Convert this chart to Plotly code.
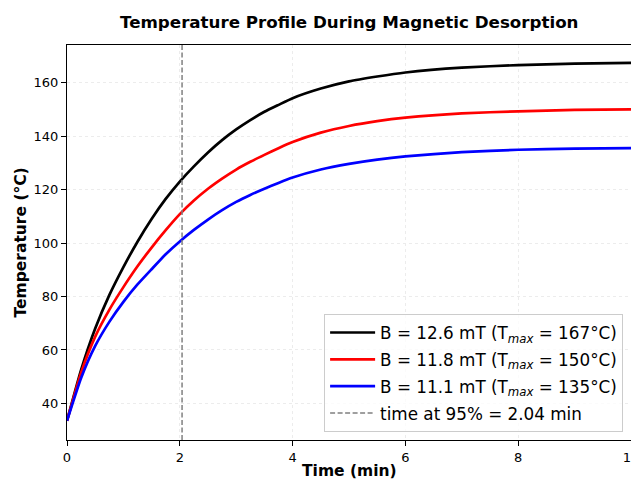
import plotly.graph_objects as go

# Time grid (min)
time_min = [0, 0.25, 0.5, 0.75, 1, 1.25, 1.5, 1.75, 2, 2.25, 2.5, 2.75, 3,
            3.25, 3.5, 3.75, 4, 4.5, 5, 5.5, 6, 7, 8, 9, 10]

# Temperature readings (°C)
temp_126 = [33.5, 52.5, 68, 80.5, 91, 100.5, 109, 116.5, 123, 128.7, 133.9, 138.5, 142.5,
            146.0, 149.1, 151.7, 154.2, 157.8, 160.5, 162.3, 163.8, 165.6, 166.6, 167.1, 167.4]
temp_118 = [33.5, 51.5, 65, 75, 83.5, 91.3, 98.3, 104.8, 110.8, 115.9, 120.3, 124.1, 127.5,
            130.4, 133.0, 135.5, 137.8, 141.3, 143.8, 145.6, 146.9, 148.5, 149.3, 149.8, 150.0]
temp_111 = [33.5, 49.5, 61.5, 70.5, 78, 84.5, 90.2, 95.8, 100.6, 104.9, 108.8, 112.3, 115.4,
            118.0, 120.3, 122.5, 124.5, 127.5, 129.6, 131.2, 132.4, 134, 134.9, 135.3, 135.5]

series_names = [
    "B = 12.6 mT (T<sub><i>max</i></sub> = 167°C)",
    "B = 11.8 mT (T<sub><i>max</i></sub> = 150°C)",
    "B = 11.1 mT (T<sub><i>max</i></sub> = 135°C)",
]
series_colors = ["black", "red", "blue"]
t95 = 2.04
t95_label = "time at 95% = 2.04 min"

x_ticks = [0, 2, 4, 6, 8, 10]
y_ticks = [40, 60, 80, 100, 120, 140, 160]
y_range = [26.3, 174.1]

FONT = "DejaVu Sans"
# page body has an 8px default margin, so the figure is drawn 8px in from the top-left
W, H = 639, 479

fig = go.Figure()
for i, (vals, name, col) in enumerate(zip([temp_126, temp_118, temp_111], series_names, series_colors)):
    fig.add_trace(go.Scatter(
        x=time_min, y=vals, mode="lines", name=name,
        line=dict(color=col, width=2.7, shape="spline", smoothing=0.5),
        legendgroup=f"g{i}",
    ))

fig.add_trace(go.Scatter(
    x=[t95, t95], y=y_range, mode="lines", name=t95_label,
    line=dict(color="#808080", width=1.5, dash="5px,2.5px"),
    legendgroup="g3",
))

axis_common = dict(
    showline=True, linecolor="black", linewidth=1, mirror=True,
    ticks="outside", ticklen=5, tickwidth=1, tickcolor="black",
    showgrid=True, gridcolor="#ececec", griddash="3px,3px", gridwidth=1,
    zeroline=False, automargin=False, ticklabeloverflow="allow",
    tickfont=dict(family=FONT, size=13, color="black"),
)

fig.update_layout(
    width=W, height=H,
    template="none",
    paper_bgcolor="white", plot_bgcolor="white",
    margin=dict(l=59, r=16, t=37, b=47, autoexpand=False),
    xaxis=dict(range=[0, 10], tickvals=x_ticks, **axis_common),
    yaxis=dict(range=y_range, tickvals=y_ticks, **axis_common),
    legend=dict(
        x=0.986, y=0.02, xanchor="right", yanchor="bottom",
        bgcolor="rgba(255,255,255,0.8)", bordercolor="#cccccc", borderwidth=1,
        font=dict(family=FONT, size=16.8, color="black"),
        traceorder="grouped", tracegroupgap=2, itemwidth=45,
    ),
    showlegend=True,
    annotations=[
        dict(text="<b>Temperature Profile During Magnetic Desorption</b>",
             xref="paper", yref="paper", x=0.5, y=1 + 23 / 395,
             xanchor="center", yanchor="middle", showarrow=False,
             font=dict(family=FONT, size=16.7, color="black")),
        dict(text="<b>Time (min)</b>",
             xref="paper", yref="paper", x=0.5, y=-31 / 395,
             xanchor="center", yanchor="middle", showarrow=False,
             font=dict(family=FONT, size=15.5, color="black")),
        dict(text="<b>Temperature (°C)</b>", textangle=-90,
             xref="paper", yref="paper", x=-47 / 564, y=0.5,
             xanchor="center", yanchor="middle", showarrow=False,
             font=dict(family=FONT, size=15.5, color="black")),
    ],
)

fig.write_html("out.html")
